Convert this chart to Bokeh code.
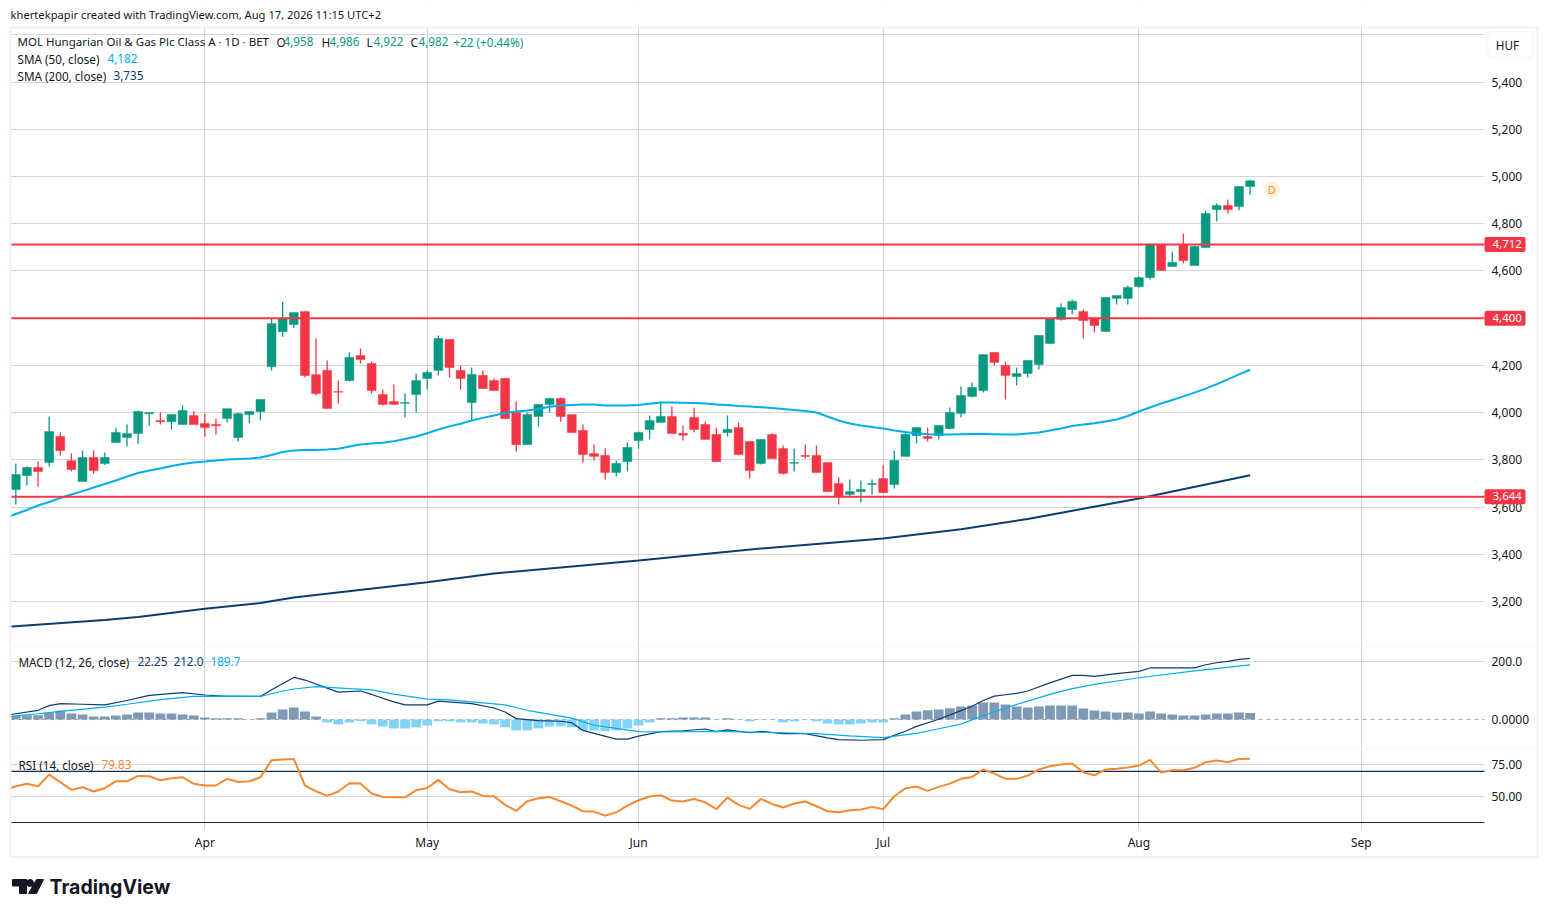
from bokeh.plotting import figure
from bokeh.layouts import column
from bokeh.models import Range1d, FixedTicker, Label, BoxAnnotation
from bokeh.embed import file_html
from bokeh.resources import INLINE
from bokeh.core.properties import value

opens = [3675,3734,3768,3789,3899,3797,3709,3810,3785,3874,
 3895,3912,3996,3967,3962,3950,3988,3954,3950,3975,
 3895,3992,4005,4195,4343,4373,4428,4161,4179,4089,
 4136,4242,4208,4077,4047,4040,4077,4145,4179,4310,
 4179,4043,4158,4136,4145,4001,3865,3984,4035,4060,
 3992,3925,3827,3819,3747,3793,3882,3929,3959,3984,
 3912,3980,3950,3908,3916,3937,3878,3785,3908,3848,
 3786,3819,3819,3789,3700,3654,3666,3696,3721,3696,
 3815,3903,3899,3903,3933,3997,4069,4094,4255,4200,
 4153,4166,4204,4293,4395,4437,4428,4399,4344,4484,
 4484,4534,4572,4712,4619,4712,4623,4699,4860,4877,
 4873,4958]
highs = [3785,3772,3793,3984,3916,3827,3840,3840,3831,3937,
 3950,4009,4001,4001,3992,4030,4005,3996,3975,4017,
 4001,4005,4056,4398,4470,4424,4428,4314,4221,4136,
 4255,4272,4217,4098,4119,4081,4166,4179,4327,4310,
 4200,4191,4179,4145,4145,4047,4001,4035,4064,4064,
 3992,3950,3865,3848,3798,3874,3920,3988,4047,4026,
 3946,4022,3963,3937,3988,3959,3878,3887,3912,3861,
 3848,3865,3861,3789,3726,3717,3713,3717,3777,3840,
 3916,3937,3937,3946,4022,4111,4128,4246,4255,4217,
 4191,4221,4327,4400,4462,4479,4437,4399,4488,4496,
 4539,4577,4713,4712,4682,4759,4708,4856,4886,4903,
 4958,4986]
lows = [3611,3692,3687,3772,3819,3751,3709,3742,3780,3874,
 3857,3869,3945,3950,3929,3950,3950,3899,3907,3958,
 3878,3954,3967,4178,4322,4360,4149,4073,4018,4039,
 4132,4208,4081,4031,4035,3980,4001,4098,4158,4149,
 4098,3967,4102,4094,3975,3836,3865,3942,4001,3963,
 3916,3789,3798,3717,3730,3751,3848,3887,3959,3912,
 3882,3916,3887,3793,3899,3819,3721,3781,3806,3738,
 3751,3806,3747,3666,3611,3641,3620,3654,3662,3679,
 3815,3870,3878,3887,3929,3980,4064,4086,4200,4056,
 4115,4149,4183,4293,4390,4416,4314,4340,4344,4458,
 4458,4530,4564,4602,4619,4632,4623,4699,4809,4843,
 4856,4922]
closes = [3738,3768,3751,3920,3840,3759,3810,3755,3810,3916,
 3912,4005,4001,3962,3992,4009,3950,3937,3945,4017,
 3996,4005,4056,4377,4398,4424,4157,4081,4018,4087,
 4234,4225,4094,4035,4035,4043,4136,4170,4314,4191,
 4145,4162,4102,4094,3975,3865,3992,4035,4060,3984,
 3916,3823,3815,3747,3785,3853,3916,3967,3984,3912,
 3905,3929,3887,3793,3929,3823,3755,3887,3806,3743,
 3789,3815,3747,3666,3645,3666,3675,3700,3662,3798,
 3908,3937,3891,3946,4001,4073,4107,4246,4213,4158,
 4166,4221,4327,4400,4445,4471,4390,4369,4488,4496,
 4530,4572,4713,4602,4636,4644,4704,4843,4877,4860,
 4958,4982]

# SMA 50: bar -1 (just off the left edge) to bar 111
sma50 = [3552,3571,3588,3607,3622,3639,3654,3668,3683,3698,
 3713,3730,3745,3755,3764,3774,3783,3789,3793,3798,
 3802,3804,3806,3810,3821,3834,3840,3842,3842,3844,
 3847,3857,3865,3870,3873,3879,3889,3899,3913,3929,
 3942,3953,3967,3978,3988,3999,4005,4009,4016,4025,
 4030,4033,4035,4035,4030,4030,4031,4033,4038,4043,
 4043,4042,4041,4039,4035,4033,4028,4026,4023,4020,
 4016,4011,4007,4001,3984,3967,3954,3946,3939,3933,
 3925,3918,3912,3909,3908,3908,3909,3910,3910,3909,
 3908,3908,3912,3916,3925,3933,3944,3950,3955,3963,
 3971,3986,4005,4022,4039,4054,4069,4085,4102,4121,
 4141,4162,4182]

sma200_bars = [-1,8,11,17,22,25,37,43,56,67,78,85,91,101,111]
sma200 = [3093,3122,3135,3170,3194,3218,3282,3319,3374,3425,3467,3507,3550,3637,3735]

levels = [4712, 4400, 3644]

hist = [12,15,15,24,30,21,17,10,10,14,
 17,24,24,21,21,17,14,7,4,4,
 4,-1,4,24,35,42,28,10,-10,-17,
 -10,-5,-17,-24,-31,-31,-28,-21,-6,-6,
 -10,-10,-14,-17,-27,-38,-38,-31,-24,-24,
 -27,-38,-38,-41,-38,-31,-21,-10,4,4,
 7,7,7,-1,4,-1,-6,-2,-1,-10,
 -6,-1,-6,-14,-17,-17,-14,-10,-10,4,
 17,28,32,35,39,45,49,59,59,52,
 45,42,45,49,49,49,38,31,28,24,
 24,21,28,21,17,14,14,17,21,21,
 24,22.25]

macd_bars = [-1,2,3,4,6,8,10,12,15,17,19,22,23,25,26,28,29,31,32,34,35,37,38,41,43,44,45,47,49,50,
 51,52,54,55,56,58,60,62,63,64,66,67,69,71,73,74,76,78,79,80,81,83,85,86,87,88,89,90,91,93,
 95,96,97,99,101,102,105,106,107,108,109,110,111]
macd = [14,32,48,55,53,51,66,84,93,85,80,80,103,146,137,109,95,99,87,61,51,51,64,55,40,26,3,-4,-6,-11,
 -38,-48,-68,-68,-58,-42,-39,-33,-42,-36,-46,-41,-49,-49,-64,-70,-72,-70,-55,-41,-24,1,31,46,66,81,86,91,99,127,
 153,153,150,159,167,179,179,179,190,197,202,209,212]
signal_bars = [-1,2,4,8,10,13,16,19,22,24,25,27,30,32,34,37,39,42,44,46,50,52,54,56,58,63,69,72,75,78,81,83,85,87,89,91,93,95,97,101,106,111]
signal = [9,20,28,43,53,69,80,81,80,99,106,114,107,103,88,71,68,58,51,32,5,-20,-31,-42,-43,-41,-46,-49,-57,-63,-48,-32,-16,14,40,64,87,107,122,145,169,189.7]

rsi = [55,58.3,60.2,58.3,67.4,61.5,55.5,57.6,54.2,56.8,
 62.2,62.2,66.4,66.1,63,64.6,65.4,60.2,58.9,58.9,
 64.1,61.7,62.2,65.4,78.6,79.2,79.7,58.9,54.4,50.8,
 54.2,60.7,60.4,52.6,50,49.7,49.7,55.2,57,63.3,
 56,53.6,54.2,50.8,50.5,43.8,39,46.6,49,50,
 46.6,43.2,38.8,38.5,35.4,38,43.2,47.4,50.3,51.3,
 47.1,46.4,48.4,45.8,40.4,49.5,43.8,40.6,48.4,44.5,
 41.7,44.8,46.4,42.7,38.8,38,39.6,40.1,42.2,40.4,
 50.5,56.8,58.1,54.7,57.8,60.4,64.1,65.6,71.4,68.2,
 64.1,64.1,66.7,71.4,74,75.3,76,69.3,66.9,71.4,
 71.9,72.9,74.5,78.9,69,70.8,70.8,72.7,77.1,78.4,
 77.1,79.7,79.83]

month_bars = [17, 37, 56, 78, 101, 121]
month_names = ["Apr", "May", "Jun", "Jul", "Aug", "Sep"]
price_ticks = [3200,3400,3600,3800,4000,4200,4400,4600,4800,5000,5200,5400,5600]

FONT = "Noto Sans"
GREEN, RED = "#089981", "#f23645"
BLUE, NAVY, ORANGE = "#00aef0", "#0b3d71", "#f7882f"
GRID, EDGE, INK = "#d6d6d6", "#eff1f5", "#131722"

PX, X0 = 11.12, 15.3
W = 1539
def bx(px):
    return (px - X0) / PX
xr = Range1d(bx(0), bx(W))
bars = list(range(len(closes)))

def make(top_px, bot_px, ym):
    p = figure(frame_width=W, frame_height=bot_px - top_px, x_range=xr,
               y_range=Range1d(ym(bot_px), ym(top_px)), y_axis_location="right",
               min_border=0, toolbar_location=None, output_backend="svg",
               background_fill_color="white", border_fill_color="white", outline_line_color=None)
    p.xgrid.ticker = FixedTicker(ticks=month_bars)
    p.xgrid.grid_line_color = "#d2d2d2"
    p.ygrid.grid_line_color = GRID
    ya = p.yaxis[0]
    ya.fixed_location = bx(1484)
    ya.axis_line_color = None
    ya.major_tick_line_color = None
    ya.minor_tick_line_color = None
    ya.major_label_standoff = 1
    ya.major_label_text_font = FONT
    ya.major_label_text_font_size = "12px"
    ya.major_label_text_color = INK
    xa = p.xaxis[0]
    xa.ticker = FixedTicker(ticks=month_bars)
    xa.visible = False
    return p

def text(p, ym, px, py, s, color=INK, size="11.7px", align="left", **kw):
    p.add_layout(Label(x=bx(px), y=ym(py - 0.8), text=s, text_font=FONT, text_font_size=size,
                       text_color=color, text_align=align, text_baseline="middle", **kw))

def box(p, ym, left, right, top, bottom, color=EDGE, level="overlay", **kw):
    p.add_layout(BoxAnnotation(left=bx(left), right=bx(right), top=ym(top), bottom=ym(bottom),
                               fill_color=color, fill_alpha=1, line_color=None, level=level, **kw))

def frame_covers(p, ym, top, bot):
    box(p, ym, 1484, W, top, bot, color="white", level="underlay")
    box(p, ym, 0, 10, top, bot, color="white", level="underlay")
    box(p, ym, 0, 9, top, bot, color="white", level="annotation")

def segs(p, levels_, **kw):
    p.segment([bx(10)] * len(levels_), levels_, [bx(1484)] * len(levels_), levels_, **kw)

# ---------- price pane ----------
T1, B1 = 0, 647
y1 = lambda py: 5000 - (py - 176) / 0.2362
p1 = make(T1, B1, y1)
p1.yaxis[0].ticker = FixedTicker(ticks=price_ticks)
p1.yaxis[0].major_label_overrides = {t: (f"{t:,}" if t != 5600 else "") for t in price_ticks}
p1.ygrid.ticker = FixedTicker(ticks=price_ticks)
frame_covers(p1, y1, T1, B1)
box(p1, y1, 0, W, 0, 27, color="white", level="underlay")

cols = [GREEN if c >= o else RED for o, c in zip(opens, closes)]
p1.segment(bars, lows, bars, highs, line_color=cols, line_width=1.3)
p1.vbar(bars, 0.8, opens, closes, fill_color=cols, line_color=cols, line_width=0.5)
p1.line(list(range(-1, len(sma50) - 1)), sma50, line_color=BLUE, line_width=2)
p1.line(sma200_bars, sma200, line_color=NAVY, line_width=2)
segs(p1, levels, line_color=RED, line_width=2)
for lv in levels:
    p1.add_layout(BoxAnnotation(left=bx(1484), right=bx(1525), top=lv + 32, bottom=lv - 32,
                                fill_color=RED, fill_alpha=1, line_color=None, border_radius=2))
    p1.add_layout(Label(x=bx(1492), y=lv + 2, text=f"{lv:,}",
                        text_font=FONT, text_font_size="11.5px",
                        text_color="white", text_baseline="middle"))
p1.scatter([112.95], [y1(189)], size=16, marker="circle", fill_color="#fdf0dc", line_color=None)
p1.text([112.95], [y1(189)], text=["D"], text_color="#f7931a", text_font=value(FONT),
        text_font_size="11px", text_align="center", text_baseline="middle")

text(p1, y1, 10, 14.5, "khertekpapir created with TradingView.com, Aug 17, 2026 11:15 UTC+2", size="11.2px")
text(p1, y1, 17, 42, "MOL Hungarian Oil & Gas Plc Class A · 1D · BET", size="11.5px")
for px, s, c in [(276,"O",INK),(283,"4,958",GREEN),(321,"H",INK),(329,"4,986",GREEN),
                 (366,"L",INK),(373,"4,922",GREEN),(410,"C",INK),(418,"4,982",GREEN),
                 (453,"+22 (+0.44%)",GREEN)]:
    text(p1, y1, px, 42, s, c)
text(p1, y1, 17, 59, "SMA (50, close)")
text(p1, y1, 107, 59, "4,182", BLUE)
text(p1, y1, 17, 76, "SMA (200, close)")
text(p1, y1, 113, 76, "3,735", NAVY)
p1.add_layout(BoxAnnotation(left=bx(1487), right=bx(1533), top=y1(31), bottom=y1(57), fill_color="white",
                            fill_alpha=1, line_color="#e6e8ee", line_width=2, border_radius=5))
text(p1, y1, 1507, 44.8, "HUF", align="center")
box(p1, y1, 9, 11, 26, B1)
box(p1, y1, 1536, 1538, 26, B1)
box(p1, y1, 9, 1538, 26, 28)
box(p1, y1, 10, 1538, 646, 647)

# ---------- MACD pane ----------
T2, B2 = 647, 749
y2 = lambda py: (719 - py) / 0.288
p2 = make(T2, B2, y2)
p2.yaxis[0].ticker = FixedTicker(ticks=[0, 200])
p2.yaxis[0].major_label_overrides = {0: "0.0000", 200: "200.0"}
p2.ygrid.ticker = FixedTicker(ticks=[200])
frame_covers(p2, y2, T2, B2)
segs(p2, [0], line_color="#a8a8a8", line_width=1, line_dash="4 4")
p2.vbar(bars, 0.88, 0, hist, fill_color=["#7f9ab6" if h >= 0 else "#81d4f8" for h in hist], line_color=None)
p2.line(macd_bars, macd, line_color=NAVY, line_width=1.2)
p2.line(signal_bars, signal, line_color=BLUE, line_width=1.2)
text(p2, y2, 18, 662, "MACD (12, 26, close)")
text(p2, y2, 137, 662, "22.25", NAVY)
text(p2, y2, 173, 662, "212.0", NAVY)
text(p2, y2, 210, 662, "189.7", BLUE)
box(p2, y2, 9, 11, T2, B2)
box(p2, y2, 1536, 1538, T2, B2)
box(p2, y2, 10, 1538, 748, 749)

# ---------- RSI pane and time axis ----------
T3, B3 = 749, 858
y3 = lambda py: 50 - (py - 796.4) / 1.28
p3 = make(T3, B3, y3)
p3.yaxis[0].ticker = FixedTicker(ticks=[50, 75])
p3.yaxis[0].major_label_overrides = {50: "50.00", 75: "75.00"}
p3.ygrid.ticker = FixedTicker(ticks=[50, 75])
frame_covers(p3, y3, T3, B3)
box(p3, y3, 0, W, 829, B3, color="white", level="underlay")
xa = p3.xaxis[0]
xa.visible = True
xa.fixed_location = y3(829)
xa.axis_line_color = None
xa.major_tick_line_color = None
xa.minor_tick_line_color = None
xa.major_label_overrides = dict(zip(month_bars, month_names))
xa.major_label_text_font = FONT
xa.major_label_text_font_size = "12px"
xa.major_label_text_color = INK
xa.major_label_standoff = -2
segs(p3, [70, 30], line_color="#0b2f5e", line_width=1.2)
p3.line(list(range(-1, len(rsi) - 1)), rsi, line_color=ORANGE, line_width=2)
text(p3, y3, 18, 765, "RSI (14, close)")
text(p3, y3, 101, 765, "79.83", ORANGE)
box(p3, y3, 9, 11, T3, 857)
box(p3, y3, 1536, 1538, T3, 857)
box(p3, y3, 9, 1538, 855.5, 857.5)

# ---------- footer logo ----------
p4 = figure(frame_width=400, frame_height=47, x_range=Range1d(0, 400), y_range=Range1d(905, 858),
            toolbar_location=None, output_backend="svg", min_border=0,
            outline_line_color=None, x_axis_location=None, y_axis_location=None)
p4.grid.visible = False
p4.patch([12, 26, 26, 19, 19, 12], [879, 879, 893, 893, 885.5, 885.5], color=INK)
p4.scatter([29.5], [882.5], size=7, marker="circle", color=INK)
p4.patch([36, 43, 36, 28], [879, 879, 893, 893], color=INK)
p4.text([49], [886.5], text=["TradingView"], text_color=INK, text_font=value("Inter"),
        text_font_style="bold", text_font_size="19.5px", text_baseline="middle")

page = column(p1, p2, p3, p4, spacing=0)
open("out.html", "w").write(file_html(page, INLINE))
